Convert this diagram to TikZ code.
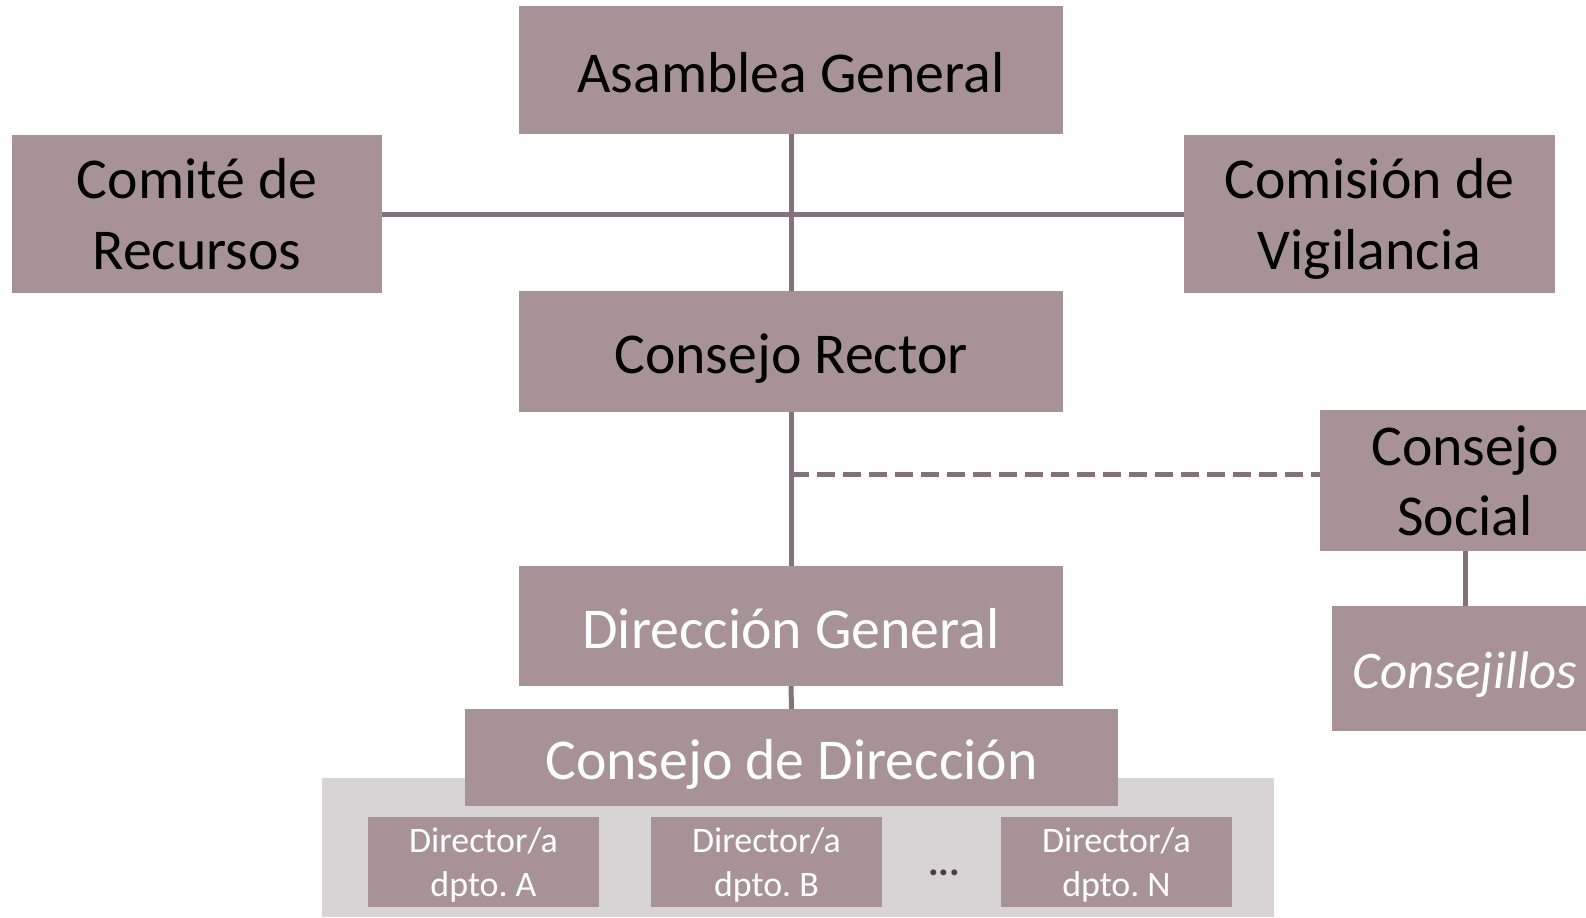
\documentclass[tikz,border=0pt]{standalone}
\usepackage{fontspec}
\setmainfont{Carlito}
\frenchspacing
\definecolor{boxfill}{HTML}{A79297}
\definecolor{linec}{HTML}{85717A}
\definecolor{grayback}{HTML}{D8D3D5}
\definecolor{dotc}{HTML}{4A3D45}
\tikzset{
  orgbox/.style={fill=boxfill, draw=none, inner sep=0pt, align=center, font=\fontsize{58}{71}\selectfont},
  oneline/.style={text height=48bp, text depth=4bp},
  twoline/.style={text depth=0bp},
  darktext/.style={text=black},
  lighttext/.style={text=white},
  smallbox/.style={fill=boxfill, draw=none, inner sep=0pt, align=center, text=white,
    minimum width=231bp, minimum height=90bp, text depth=0bp, font=\fontsize{36}{44}\selectfont},
  conn/.style={draw=linec, line width=5bp},
  dashconn/.style={draw=linec, line width=5bp, dash pattern=on 18bp off 8bp}
}
\begin{document}
\begin{tikzpicture}[x=1bp, y=-1bp]
\useasboundingbox (0,0) rectangle (1586,917);
\clip (0,0) rectangle (1586,917);
% grey background panel
\fill[grayback] (322,778) rectangle (1274,917);
% nodes
\node[orgbox, oneline, darktext, minimum width=544bp, minimum height=128bp] (ag) at (791,70) {Asamblea General};
\node[orgbox, twoline, darktext, minimum width=370bp, minimum height=158bp] (cre) at (197,214) {Comité de\\Recursos};
\node[orgbox, twoline, darktext, minimum width=371bp, minimum height=158bp] (cvi) at (1369.5,214) {Comisión de\\Vigilancia};
\node[orgbox, oneline, darktext, minimum width=544bp, minimum height=121bp] (rec) at (791,351.5) {Consejo Rector};
\node[orgbox, twoline, darktext, minimum width=290bp, minimum height=141bp] (cso) at (1465,480.5) {Consejo\\Social};
\node[orgbox, oneline, lighttext, minimum width=544bp, minimum height=120bp] (dg) at (791,626) {Dirección General};
\node[orgbox, lighttext, minimum width=266bp, minimum height=125bp, text height=44bp, text depth=5bp,
      font=\fontsize{53}{65}\selectfont\itshape] (cjs) at (1465,668.5) {Consejillos};
\node[orgbox, oneline, lighttext, minimum width=653bp, minimum height=97bp] (cd) at (791.5,757.5) {Consejo de Dirección};
\node[smallbox] (da) at (483.5,862) {Director/a\\dpto. A};
\node[smallbox] (db) at (766.5,862) {Director/a\\dpto. B};
\node[smallbox] (dn) at (1116.5,862) {Director/a\\dpto. N};
\node[text=dotc, font=\fontsize{40}{48}\selectfont\bfseries, inner sep=0pt, anchor=base] (dots) at (944,875) {...};
% connectors
\coordinate (hc) at (791,214.5);
\coordinate (dc) at (791,474);
\draw[conn] (ag.south) -- (rec.north);
\draw[conn] (cre.east |- hc) -- (cvi.west |- hc);
\draw[conn] (rec.south) -- (dg.north);
\draw[dashconn] (dc) -- (cso.west |- dc);
\draw[conn] (cso.south) -- (cjs.north);
\draw[conn] (dg.south) -- (cd.north);
\end{tikzpicture}
\end{document}
